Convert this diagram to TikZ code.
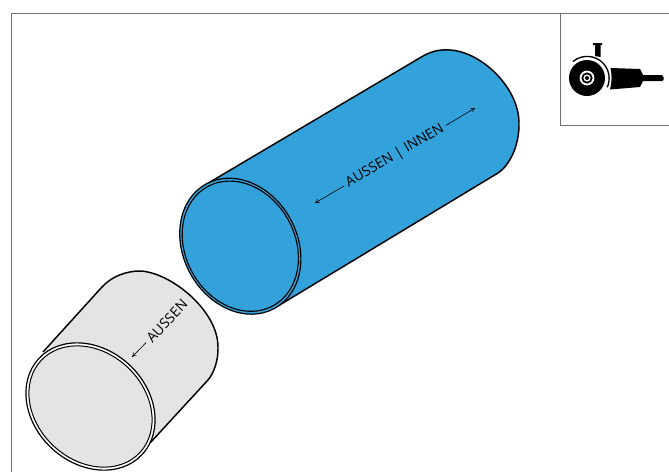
\documentclass[tikz,border=0pt]{standalone}
\usepackage{fontspec}
\setmainfont{Open Sans}
\usepackage{xcolor}
\usepackage{tikz}
\usetikzlibrary{positioning, arrows.meta}
\definecolor{tubeblue}{HTML}{33A2DB}
\definecolor{tubegrey}{HTML}{E4E4E4}
\definecolor{framegrey}{HTML}{707070}
\tikzset{
	tubeline/.style={draw=black, line width=1.1pt, line join=round},
	ringline/.style={draw=black, line width=0.75pt},
	tubetext/.style={font=\fontsize{10.5pt}{12pt}\selectfont, inner sep=2.5pt},
	farrow/.style={-{To[length=3.2pt,width=3.6pt]}, line width=0.45pt},
}

\begin{document}
\begin{tikzpicture}[x=0.75pt, y=0.75pt]
	\useasboundingbox (0,-472) rectangle (669,0);
	
	% frame and icon box
	\draw[framegrey, line width=0.75pt] (11,-472) -- (11,-13) -- (669,-13);
	\draw[framegrey, line width=0.75pt] (669,-125) -- (560,-125) -- (560,-13);
	
	% grey tube
	\draw[tubeline, fill=tubegrey] (43,-352) -- (102,-287) .. controls (112,-276) and (127,-271) .. (140,-271)
		.. controls (170,-272) and (218,-310) .. (218,-347) .. controls (218.5,-360) and (214,-373) .. (208,-380)
		-- (150,-443);
	\begin{scope}[shift={(90.5,-406.5)}, rotate=47]
		\draw[tubeline, line width=0.9pt, fill=white] (0,0) ellipse (57 and 70.5);
		\draw[ringline, fill=tubegrey] (0,0) ellipse (54 and 67.5);
	\end{scope}
	
	% blue tube
	\draw[tubeline, fill=tubeblue] (205,-185) -- (423,-56) .. controls (434,-50) and (442,-49.5) .. (450,-50)
		.. controls (482,-52) and (519,-88) .. (519,-123) .. controls (519.5,-145) and (510,-165) .. (498,-173)
		-- (278,-306);
	\begin{scope}[shift={(240.3,-246.2)}, rotate=29]
		\draw[tubeline, line width=0.9pt, fill=tubeblue] (0,0) ellipse (57 and 71);
		\draw[ringline, line width=0.85pt] (0,0) ellipse (54.7 and 68);
	\end{scope}
	
	% labels
	\node[tubetext, rotate=30.5] (lblblue) at (395,-156) {AUSSEN | INNEN};
	\coordinate (tipleft) at (315,-203);
	\coordinate (tipright) at (475,-108);
	\draw[farrow] (lblblue) -- (tipleft);
	\draw[farrow] (lblblue) -- (tipright);
	
	\node[tubetext, rotate=47] (lblgrey) at (167,-321) {AUSSEN};
	\coordinate (tipgrey) at (132,-357);
	\draw[farrow] (lblgrey) -- (tipgrey);
	
	% grinder icon
	\fill[black] (587,-78) circle (18);
	\fill[white] (587,-78) circle (7.4);
	\fill[black] (587,-78) circle (5.6);
	\fill[white] (587,-78) circle (3.6);
	\fill[black] (587,-78) circle (2);
	\draw[black, line width=1pt] (573,-61.5) arc[start angle=130,end angle=-24,radius=22];
	\fill[black] (593,-43) -- (602,-43) -- (602,-45) -- (600.5,-45) -- (600.5,-57) -- (595,-56) -- (595,-45) -- (593,-45) -- cycle;
	\fill[black] (610.5,-68) -- (640,-69) -- (643,-75) -- (662,-75) -- (663.5,-77) -- (663.5,-80) -- (662,-81) -- (643,-81) -- (640,-87) -- (610,-89.5) .. controls (612,-82) and (612,-75) .. (610.5,-68) -- cycle;
\end{tikzpicture}
\end{document}
